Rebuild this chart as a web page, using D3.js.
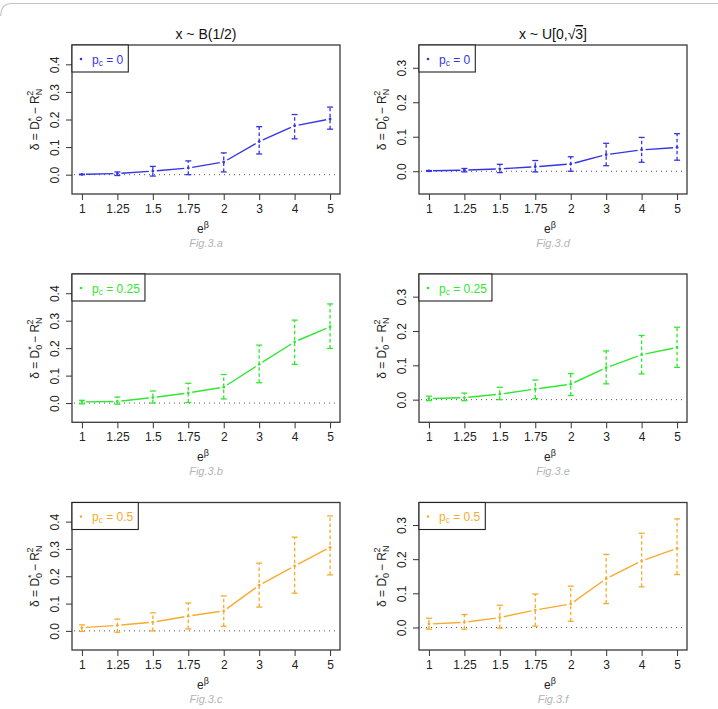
<!DOCTYPE html>
<html><head><meta charset="utf-8">
<script src="https://cdn.jsdelivr.net/npm/d3@7"></script>
<style>
body{margin:0;background:#fff}
svg{display:block}
text{font-family:"Liberation Sans",Arial,Helvetica,sans-serif}
</style>
</head><body>
<svg id="c" width="718" height="709"></svg>
<script>
// ---------- data ----------
const categories = ["1","1.25","1.5","1.75","2","3","4","5"];
const yTicksB = [0, 0.1, 0.2, 0.3, 0.4];
const yTicksU = [0, 0.1, 0.2, 0.3];
const columnTitles = ["x ~ B(1/2)", "x ~ U[0,√3]"];
const pcLabels = ["0", "0.25", "0.5"];
const figLabelsB = ["Fig.3.a", "Fig.3.b", "Fig.3.c"];
const figLabelsU = ["Fig.3.d", "Fig.3.e", "Fig.3.f"];

// x ~ B(1/2)
const meanB0  = [0.001, 0.004, 0.013, 0.024, 0.046, 0.120, 0.177, 0.202];
const lowB0   = [0.000, -0.003, -0.005, 0.000, 0.010, 0.075, 0.130, 0.165];
const highB0  = [0.002, 0.010, 0.030, 0.050, 0.079, 0.174, 0.218, 0.245];
const meanB25 = [0.004, 0.006, 0.020, 0.037, 0.058, 0.141, 0.223, 0.278];
const lowB25  = [-0.003, -0.004, 0.000, 0.002, 0.015, 0.074, 0.141, 0.199];
const highB25 = [0.010, 0.022, 0.044, 0.072, 0.104, 0.211, 0.302, 0.361];
const meanB5  = [0.012, 0.020, 0.032, 0.054, 0.073, 0.167, 0.238, 0.306];
const lowB5   = [-0.002, -0.005, 0.000, 0.007, 0.017, 0.087, 0.138, 0.205];
const highB5  = [0.022, 0.043, 0.066, 0.102, 0.128, 0.248, 0.343, 0.421];

// x ~ U[0, sqrt 3]
const meanU0  = [0.001, 0.003, 0.007, 0.013, 0.021, 0.048, 0.062, 0.069];
const lowU0   = [0.000, -0.002, -0.004, -0.002, 0.000, 0.016, 0.026, 0.032];
const highU0  = [0.002, 0.008, 0.020, 0.031, 0.042, 0.081, 0.098, 0.109];
const meanU25 = [0.003, 0.006, 0.016, 0.031, 0.045, 0.093, 0.131, 0.152];
const lowU25  = [-0.003, -0.003, 0.000, 0.003, 0.012, 0.046, 0.075, 0.094];
const highU25 = [0.010, 0.019, 0.036, 0.057, 0.076, 0.142, 0.187, 0.211];
const meanU5  = [0.010, 0.015, 0.029, 0.051, 0.069, 0.143, 0.195, 0.232];
const lowU5   = [-0.005, -0.005, -0.002, 0.004, 0.018, 0.070, 0.119, 0.155];
const highU5  = [0.027, 0.038, 0.065, 0.098, 0.121, 0.214, 0.276, 0.318];

const seriesColors = ["#3434e6", "#2fe82f", "#f7ab2e"];

// ---------- layout ----------
const svg = d3.select("#c");
const colX = [[72, 340], [419, 687]];
const rowY = [[45, 194], [274, 422.3], [502.5, 650]];
const yDomains = [[-0.07, 0.47], [-0.066, 0.366]];

// outer frame (top edge visible)
svg.append("path")
  .attr("d", "M0.8,16 Q0.8,3.5 12,3.5 L718,3.5")
  .attr("fill", "none").attr("stroke", "#c4c4c4").attr("stroke-width", 1.2);

const panels = [
  {col:0,row:0,mean:meanB0,low:lowB0,high:highB0},
  {col:0,row:1,mean:meanB25,low:lowB25,high:highB25},
  {col:0,row:2,mean:meanB5,low:lowB5,high:highB5},
  {col:1,row:0,mean:meanU0,low:lowU0,high:highU0},
  {col:1,row:1,mean:meanU25,low:lowU25,high:highU25},
  {col:1,row:2,mean:meanU5,low:lowU5,high:highU5}
];

panels.forEach(p => {
  const [x0, x1] = colX[p.col];
  const [y0, y1] = rowY[p.row];
  const color = seriesColors[p.row];
  const x = d3.scalePoint().domain(categories).range([x0, x1]).padding(0.28);
  const y = d3.scaleLinear().domain(yDomains[p.col]).range([y1, y0]);
  const g = svg.append("g");

  // zero line (dotted)
  g.append("line")
    .attr("x1", x0 + 2).attr("x2", x1 - 2)
    .attr("y1", y(0)).attr("y2", y(0))
    .attr("stroke", "#555").attr("stroke-width", 1)
    .attr("stroke-dasharray", "1,4");

  const pts = categories.map((c, i) => ({x: x(c), m: y(p.mean[i]), lo: y(p.low[i]), hi: y(p.high[i])}));

  // connecting line with gaps (type = "b")
  const gap = 4;
  for (let i = 0; i < pts.length - 1; i++) {
    const a = pts[i], b = pts[i + 1];
    const dx = b.x - a.x, dy = b.m - a.m, L = Math.hypot(dx, dy);
    if (L <= 2 * gap) continue;
    const ux = dx / L, uy = dy / L;
    g.append("line")
      .attr("x1", a.x + ux * gap).attr("y1", a.m + uy * gap)
      .attr("x2", b.x - ux * gap).attr("y2", b.m - uy * gap)
      .attr("stroke", color).attr("stroke-width", 1.4);
  }

  // error bars
  pts.forEach(d => {
    g.append("line")
      .attr("x1", d.x).attr("x2", d.x).attr("y1", d.lo).attr("y2", d.hi)
      .attr("stroke", color).attr("stroke-width", 1.3)
      .attr("stroke-dasharray", "3.5,2.5");
    [d.lo, d.hi].forEach(v => {
      g.append("line")
        .attr("x1", d.x - 3).attr("x2", d.x + 3).attr("y1", v).attr("y2", v)
        .attr("stroke", color).attr("stroke-width", 1.3);
    });
    g.append("circle").attr("cx", d.x).attr("cy", d.m).attr("r", 1.4).attr("fill", color);
  });

  // box
  g.append("rect")
    .attr("x", x0).attr("y", y0).attr("width", x1 - x0).attr("height", y1 - y0)
    .attr("fill", "none").attr("stroke", "#3a3a3a").attr("stroke-width", 1.3);

  // x axis
  const xa = g.append("g").attr("transform", `translate(0,${y1})`)
    .call(d3.axisBottom(x).tickSize(6).tickPadding(4));
  xa.select(".domain").remove();
  xa.selectAll("line").attr("stroke", "#333");
  xa.selectAll("text").attr("font-size", 12).attr("fill", "#222")
    .attr("font-family", "'Liberation Sans',Arial,sans-serif");

  // y axis
  const ticks = p.col === 0 ? yTicksB : yTicksU;
  const ya = g.append("g").attr("transform", `translate(${x0},0)`)
    .call(d3.axisLeft(y).tickValues(ticks).tickFormat(d3.format(".1f")).tickSize(6));
  ya.select(".domain").remove();
  ya.selectAll("line").attr("stroke", "#333");
  ya.selectAll("text").remove();
  ya.selectAll(".tick").append("text")
    .attr("transform", "translate(-17,0) rotate(-90)")
    .attr("text-anchor", "middle").attr("dy", "0.35em")
    .attr("font-size", 12).attr("fill", "#222")
    .text(d => d3.format(".1f")(d));

  // y label
  const cy = (y0 + y1) / 2;
  const yl = g.append("text")
    .attr("transform", `translate(${x0 - 33},${cy}) rotate(-90)`)
    .attr("text-anchor", "middle").attr("font-size", 12).attr("fill", "#222");
  yl.append("tspan").text("δ = D");
  yl.append("tspan").attr("font-size", 9).attr("dy", 3).text("0");
  yl.append("tspan").attr("font-size", 9).attr("dx", -5).attr("dy", -8).text("*");
  yl.append("tspan").attr("dy", 5).text(" − R");
  yl.append("tspan").attr("font-size", 9).attr("dy", 3).text("N");
  yl.append("tspan").attr("font-size", 9).attr("dx", -7).attr("dy", -9).text("2");

  // x label
  const xl = g.append("text")
    .attr("x", (x0 + x1) / 2 - 3).attr("y", y1 + 39)
    .attr("text-anchor", "middle").attr("font-size", 12).attr("fill", "#222");
  xl.append("tspan").text("e");
  xl.append("tspan").attr("font-size", 9).attr("dy", -5).text("β");

  // fig label
  g.append("text")
    .attr("x", (x0 + x1) / 2).attr("y", y1 + 52.5)
    .attr("text-anchor", "middle").attr("font-size", 11)
    .attr("font-style", "italic").attr("fill", "#b4b4b4")
    .text(p.col === 0 ? figLabelsB[p.row] : figLabelsU[p.row]);

  // legend
  const lg = g.append("g");
  const lt = lg.append("text").attr("x", x0 + 20).attr("y", y0 + 18.5)
    .attr("font-size", 12).attr("fill", color);
  lt.append("tspan").text("p");
  lt.append("tspan").attr("font-size", 8.5).attr("dy", 2).text("c");
  lt.append("tspan").attr("dy", -2).text(" = " + pcLabels[p.row]);
  const tw = lt.node().getComputedTextLength();
  lg.insert("rect", "text")
    .attr("x", x0).attr("y", y0).attr("width", 20 + tw + 5).attr("height", 27)
    .attr("fill", "#fff").attr("stroke", "#222").attr("stroke-width", 1.1);
  lg.append("circle").attr("cx", x0 + 9).attr("cy", y0 + 14).attr("r", 1.3).attr("fill", color);

  // column title
  if (p.row === 0) {
    const tt = g.append("text")
      .attr("x", (x0 + x1) / 2).attr("y", y0 - 6)
      .attr("text-anchor", "middle").attr("font-size", 14).attr("fill", "#111");
    if (p.col === 0) {
      tt.text(columnTitles[0]);
    } else {
      const t = columnTitles[1];
      tt.append("tspan").text(t.slice(0, 8));
      tt.append("tspan").text("√");
      tt.append("tspan").attr("text-decoration", "overline").text("3");
      tt.append("tspan").text("]");
    }
  }
});
</script>
</body></html>
